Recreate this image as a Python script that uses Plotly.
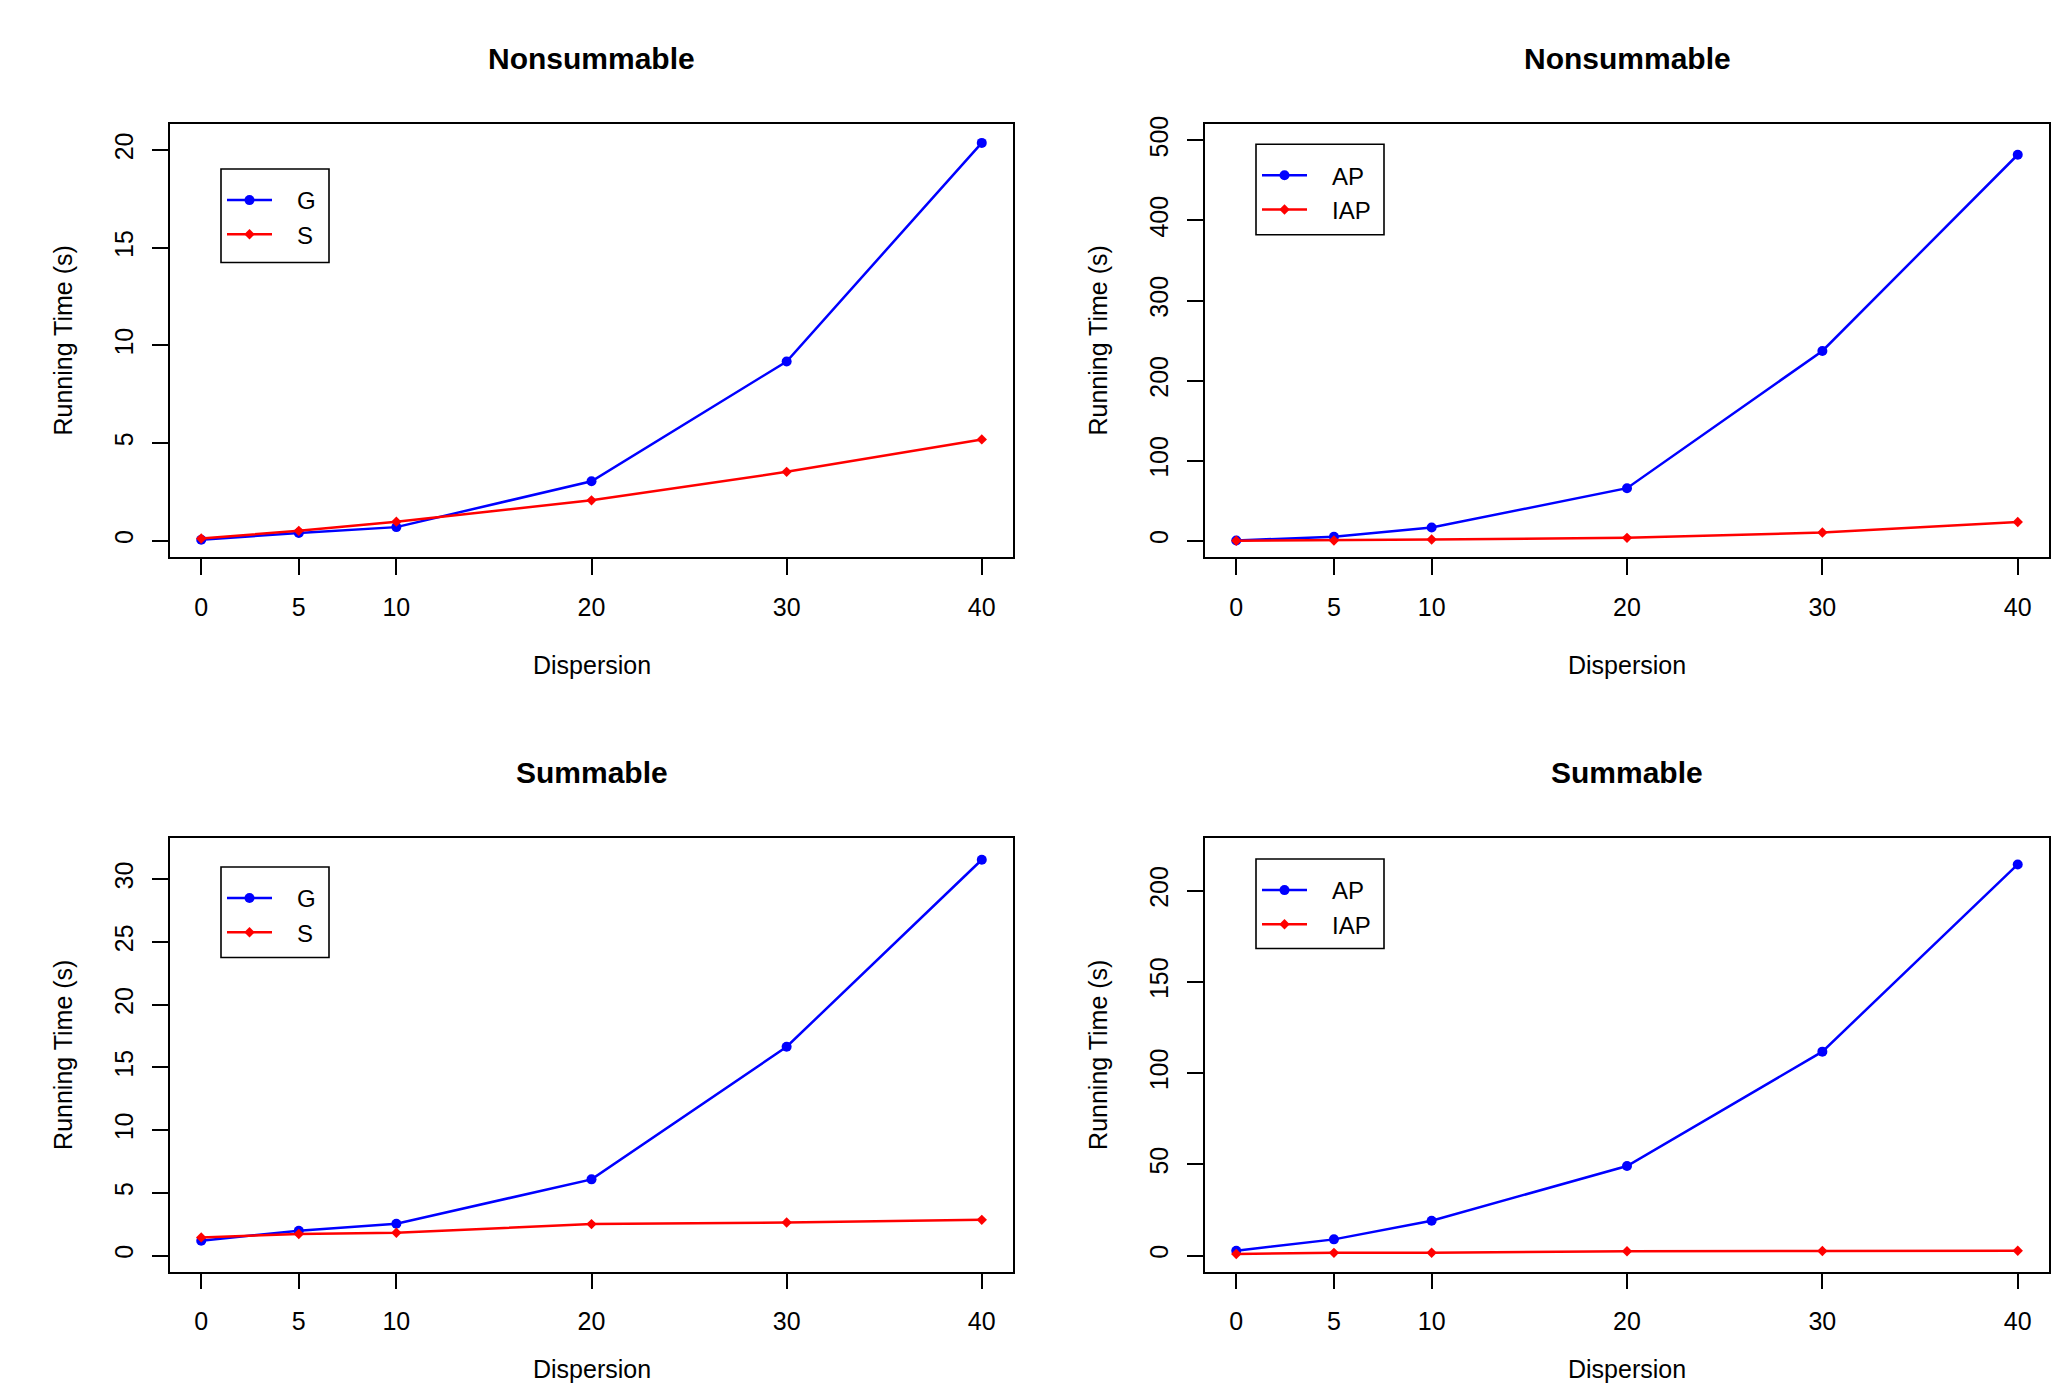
import plotly.graph_objects as go

W, H = 2069, 1385

# ---------------- data ----------------
dispersion = [0, 5, 10, 20, 30, 40]

ns_G = [0.05, 0.40, 0.70, 3.05, 9.18, 20.37]
ns_S = [0.12, 0.51, 0.98, 2.07, 3.53, 5.19]
ns_AP = [0.4, 5.0, 16.5, 65.7, 237.0, 482.0]
ns_IAP = [0.1, 0.4, 1.6, 3.7, 10.3, 23.5]

s_G = [1.19, 1.98, 2.54, 6.08, 16.65, 31.56]
s_S = [1.45, 1.72, 1.82, 2.51, 2.64, 2.85]
s_AP = [2.7, 8.9, 19.1, 49.1, 111.8, 214.4]
s_IAP = [0.9, 1.5, 1.6, 2.4, 2.5, 2.7]

titles = ["Nonsummable", "Nonsummable", "Summable", "Summable"]
series_names = [("G", "S"), ("AP", "IAP"), ("G", "S"), ("AP", "IAP")]
series_vals = [(ns_G, ns_S), (ns_AP, ns_IAP), (s_G, s_S), (s_AP, s_IAP)]
ylims = [[0, 20.5], [0, 500], [0, 32], [0, 220]]
yticks = [[0, 5, 10, 15, 20], [0, 100, 200, 300, 400, 500],
          [0, 5, 10, 15, 20, 25, 30], [0, 50, 100, 150, 200]]
xticks = [0, 5, 10, 20, 30, 40]
xlim = [0, 40]

x_label = "Dispersion"
y_label = "Running Time (s)"

# ---------------- layout geometry (pixels) ----------------
boxes = [  # x0, x1, y0(top), y1(bottom)
    (170, 1013, 117, 552),
    (1205, 2049, 117, 552),
    (170, 1013, 835, 1271),
    (1205, 2049, 835, 1271),
]
# legend frames: x0, y0, x1, y1 ; first entry centre y
legend_box = [(221, 162, 329, 256), (1256, 137, 1384, 228),
              (221, 864, 329, 955), (1256, 856, 1384, 946)]
legend_first = [193, 168, 895, 887]

FONT = "Liberation Sans, Arial, Helvetica, sans-serif"
BLUE = "#0000FF"
RED = "#FF0000"
NBSP = "\u00a0"


def px_x(x):
    return x / W


def px_y(y):
    return 1 - y / H


def ext(lim):
    d = (lim[1] - lim[0]) * 0.04
    return [lim[0] - d, lim[1] + d]


fig = go.Figure()
annotations = []
shapes = []
layout = {}

for i in range(4):
    k = "" if i == 0 else str(i + 1)
    xa, ya = "x" + k, "y" + k
    leg = "legend" + k
    (n1, n2), (v1, v2) = series_names[i], series_vals[i]
    fig.add_trace(go.Scatter(
        x=dispersion, y=v1, name=NBSP * 3 + n1, mode="lines+markers",
        xaxis=xa, yaxis=ya, legend=leg,
        line=dict(color=BLUE, width=2.5),
        marker=dict(symbol="circle", size=10, color=BLUE)))
    fig.add_trace(go.Scatter(
        x=dispersion, y=v2, name=NBSP * 3 + n2, mode="lines+markers",
        xaxis=xa, yaxis=ya, legend=leg,
        line=dict(color=RED, width=2.5),
        marker=dict(symbol="diamond", size=8, color=RED)))

    x0, x1, y0, y1 = boxes[i]
    common = dict(showline=True, linecolor="black", linewidth=1.6, mirror=True,
                  ticks="outside", ticklen=16, tickwidth=1.5, tickcolor="black",
                  showgrid=False, zeroline=False, fixedrange=True,
                  tickfont=dict(family=FONT, size=25, color="black"))
    layout["xaxis" + k] = dict(common, domain=[px_x(x0), px_x(x1)],
                               range=ext(xlim), tickvals=xticks,
                               anchor=ya, ticklabelstandoff=11)
    layout["yaxis" + k] = dict(common, domain=[px_y(y1), px_y(y0)],
                               range=ext(ylims[i]), tickvals=yticks[i],
                               tickangle=-90, anchor=xa, ticklabelstandoff=9)

    lx0, ly0, lx1, ly1 = legend_box[i]
    shapes.append(dict(type="rect", xref="paper", yref="paper",
                       x0=px_x(lx0), x1=px_x(lx1), y0=px_y(ly1), y1=px_y(ly0),
                       line=dict(color="black", width=1.6),
                       fillcolor="rgba(0,0,0,0)", layer="above"))
    layout[leg] = dict(x=px_x(lx0 + 1), y=px_y(legend_first[i] - 22),
                       xanchor="left", yanchor="top",
                       xref="paper", yref="paper",
                       borderwidth=0, bgcolor="rgba(0,0,0,0)",
                       font=dict(family=FONT, size=24, color="black"),
                       itemwidth=45, tracegroupgap=0)

    cx = (x0 + x1) / 2
    annotations.append(dict(text="<b>" + titles[i] + "</b>", x=px_x(cx),
                            y=px_y(y0 - 66), xref="paper", yref="paper",
                            showarrow=False, xanchor="center", yanchor="middle",
                            font=dict(family=FONT, size=30, color="black")))
    ty = y1 + 109
    annotations.append(dict(text=x_label, x=px_x(cx),
                            y=px_y(min(ty, H - 16)),
                            xref="paper", yref="paper", showarrow=False,
                            xanchor="center", yanchor="middle",
                            font=dict(family=FONT, size=25, color="black")))
    annotations.append(dict(text=y_label, x=px_x(x0 - 107),
                            y=px_y((y0 + y1) / 2), xref="paper", yref="paper",
                            showarrow=False, xanchor="center", yanchor="middle",
                            textangle=-90,
                            font=dict(family=FONT, size=25, color="black")))

fig.update_layout(**layout)
fig.update_layout(
    width=W, height=H,
    margin=dict(l=0, r=0, t=0, b=0),
    paper_bgcolor="white", plot_bgcolor="white",
    annotations=annotations,
    shapes=shapes,
    showlegend=True,
)

fig.write_html(
    "out.html",
    config={"displayModeBar": False},
    post_script="document.body.style.margin='0';document.body.style.overflow='hidden';",
)
